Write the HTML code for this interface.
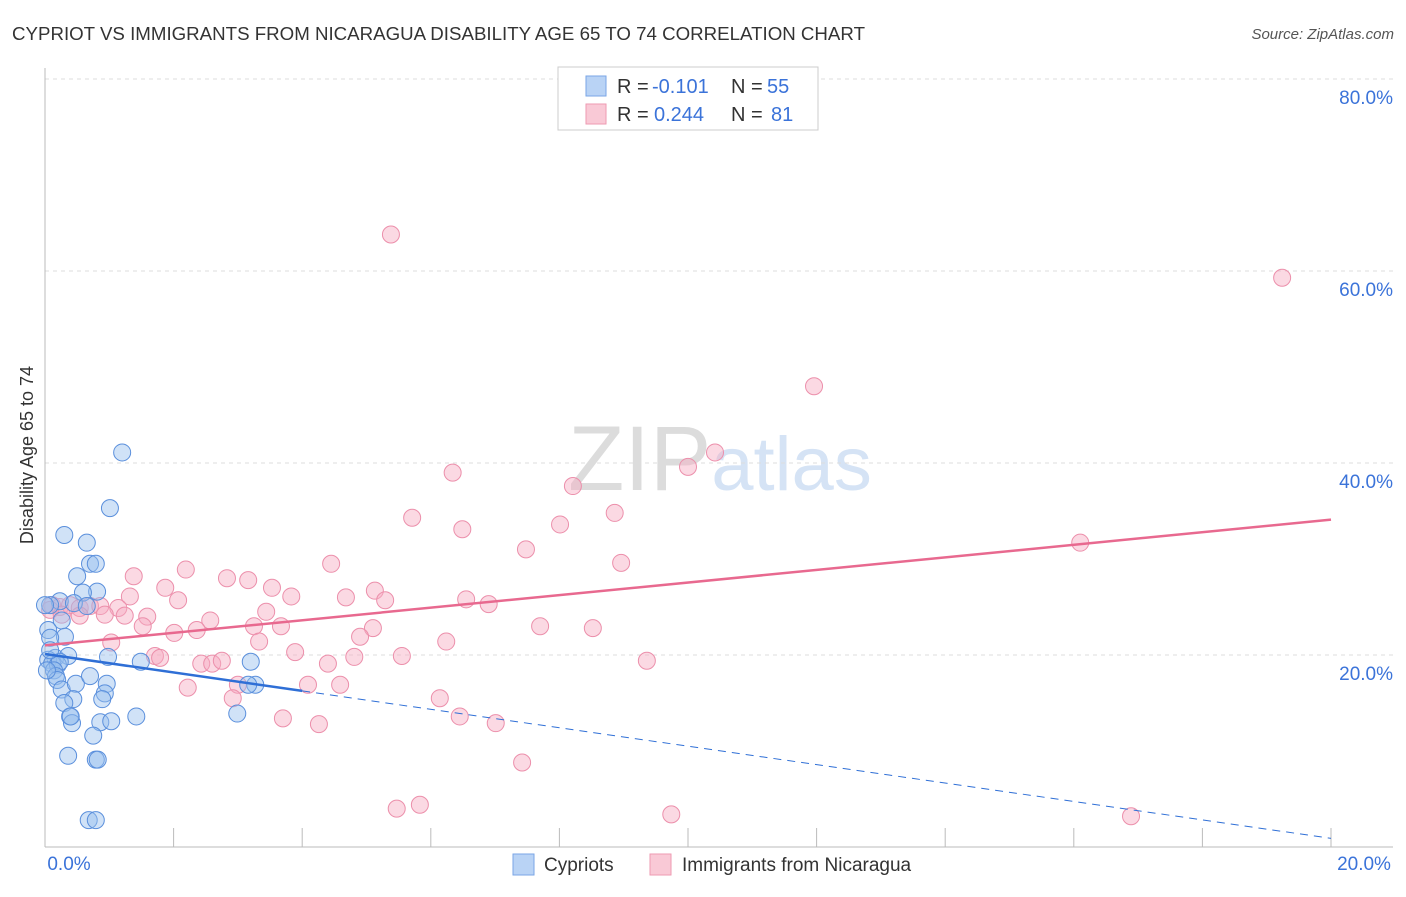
<!DOCTYPE html>
<html><head><meta charset="utf-8"><style>
body{margin:0;background:#fff;font-family:"Liberation Sans",sans-serif}
svg text{font-family:"Liberation Sans",sans-serif}
</style></head><body>
<svg id="c" width="1406" height="892">
<text x="12" y="40" font-size="18" fill="#333" textLength="853" lengthAdjust="spacingAndGlyphs">CYPRIOT VS IMMIGRANTS FROM NICARAGUA DISABILITY AGE 65 TO 74 CORRELATION CHART</text>
<text x="1394" y="39" font-size="15" fill="#555" text-anchor="end" font-style="italic">Source: ZipAtlas.com</text>
<text x="720" y="490" font-size="92" fill="#e6e6e6" text-anchor="middle" font-family="Liberation Serif"><tspan fill="#dcdcdc">ZIP</tspan><tspan fill="#d5e3f5" font-family="Liberation Sans" font-size="76">atlas</tspan></text>
<text transform="translate(33,455) rotate(-90)" font-size="18" fill="#333" text-anchor="middle">Disability Age 65 to 74</text>
<g id="grid"></g><g id="pts"></g><g id="lines"></g>
<g>
<rect x="558" y="67" width="260" height="63" fill="#fff" stroke="#ccc"/>
<rect x="586" y="76" width="20" height="20" fill="#b9d3f5" stroke="#7aa6e6"/>
<rect x="586" y="104" width="20" height="20" fill="#f9c9d6" stroke="#ee9ab2"/>
<text x="617" y="93" font-size="20" fill="#333">R =</text>
<text x="652" y="93" font-size="20" fill="#3b73d9">-0.101</text>
<text x="731" y="93" font-size="20" fill="#333">N =</text>
<text x="767" y="93" font-size="20" fill="#3b73d9">55</text>
<text x="617" y="121" font-size="20" fill="#333">R =</text>
<text x="654" y="121" font-size="20" fill="#3b73d9">0.244</text>
<text x="731" y="121" font-size="20" fill="#333">N =</text>
<text x="771" y="121" font-size="20" fill="#3b73d9">81</text>
</g>
<g>
<rect x="513" y="854" width="21" height="21" fill="#b9d3f5" stroke="#7aa6e6"/>
<text x="544" y="871" font-size="19" fill="#333">Cypriots</text>
<rect x="650" y="854" width="21" height="21" fill="#f9c9d6" stroke="#ee9ab2"/>
<text x="682" y="871" font-size="19" fill="#333">Immigrants from Nicaragua</text>
</g>
</svg>
<script>
const blueX=[1.20,1.01,0.30,0.65,0.70,0.79,0.50,0.81,0.59,0.23,0.45,0.65,0.08,0.26,0.05,0.31,0.08,0.16,0.36,0.05,0.11,0.20,0.23,0.14,0.17,0.19,0.26,0.98,1.49,3.20,0.48,0.70,0.96,0.93,0.89,0.44,0.30,0.39,0.42,0.86,1.03,1.42,2.99,0.75,0.36,0.79,0.82,3.27,0.68,0.79,3.16,0.40,0,0.08,0.03];
const blueY=[41.1,35.3,32.5,31.7,29.5,29.5,28.2,26.6,26.5,25.6,25.4,25.1,25.2,23.6,22.6,21.9,21.8,19.7,19.9,19.5,19.1,19.0,19.3,18.4,17.8,17.4,16.4,19.8,19.3,19.3,17.0,17.8,17.0,16.0,15.4,15.4,15.0,13.6,12.9,13.0,13.1,13.6,13.9,11.6,9.5,9.1,9.1,16.9,2.8,2.8,16.9,13.6,25.2,20.5,18.4];
const pinkX=[5.38,19.24,11.96,6.34,10.42,10.00,8.21,5.71,6.49,8.01,8.86,7.48,16.10,4.45,8.96,1.38,2.19,2.83,3.16,1.87,3.53,3.83,4.68,5.13,5.29,6.55,6.90,1.32,2.07,0.11,0.23,0.39,0.54,0.70,0.86,1.14,1.59,0.54,0.93,1.24,2.57,3.44,7.70,8.52,5.10,3.67,3.25,1.52,2.36,2.01,4.90,6.24,1.03,3.33,3.89,1.71,1.79,4.81,5.55,9.36,4.40,2.43,2.60,2.75,2.22,3.00,4.09,4.59,6.14,2.92,3.70,4.26,6.45,7.01,7.42,5.47,5.83,9.74,16.89,0.08,0.26];
const pinkY=[63.8,59.3,48.0,39.0,41.1,39.6,37.6,34.3,33.1,33.6,34.8,31.0,31.7,29.5,29.6,28.2,28.9,28.0,27.8,27.0,27.0,26.1,26.0,26.7,25.7,25.8,25.3,26.1,25.7,25.2,25.0,25.2,24.9,25.1,25.1,24.9,24.0,24.1,24.2,24.1,23.6,24.5,23.0,22.8,22.8,23.0,23.0,23.0,22.6,22.3,21.9,21.4,21.3,21.4,20.3,19.9,19.7,19.8,19.9,19.4,19.1,19.1,19.1,19.4,16.6,16.9,16.9,16.9,15.5,15.5,13.4,12.8,13.6,12.9,8.8,4.0,4.4,3.4,3.2,24.7,24.2];
const yTicks=[20,40,60,80];
const pinkTrend=[21.0,0.655];
const blueTrend=[20.1,-0.96,4.0];
const NS='http://www.w3.org/2000/svg';
const sx=v=>45+v*64.3, sy=v=>847-v*9.6;
function mk(tag,a,p){const e=document.createElementNS(NS,tag);for(const k in a)e.setAttribute(k,a[k]);p.appendChild(e);return e;}
const g=document.getElementById('grid');
yTicks.forEach(t=>{
const l=mk('line',{x1:45,x2:1393,y1:sy(t),y2:sy(t),stroke:'#ddd','stroke-dasharray':'4,4'},g);


const tx=mk('text',{x:1393,y:sy(t)+25,'font-size':19,fill:'#3b73d9','text-anchor':'end'},g);
tx.textContent=t.toFixed(1)+'%';


});
const ax=mk('line',{x1:45,x2:1393,y1:847,y2:847,stroke:'#bbb'},g);


const ay=mk('line',{x1:45,x2:45,y1:68,y2:847,stroke:'#bbb'},g);


for(let i=1;i<=10;i++){mk('line',{x1:sx(i*2),x2:sx(i*2),y1:828,y2:847,stroke:'#bbb'},g);}
[[0,'0.0%',69,'middle'],[20,'20.0%',1364,'middle']].forEach(d=>{
const t=mk('text',{x:d[2],y:870,'font-size':19,fill:'#3b73d9','text-anchor':d[3]},g);
t.textContent=d[1];


});
const p=document.getElementById('pts');
pinkX.forEach((x,i)=>{
const c=mk('circle',{cx:sx(x),cy:sy(pinkY[i]),r:8.5,fill:'rgba(246,170,193,0.45)',stroke:'#ec8fab','stroke-width':1},p);


});
blueX.forEach((x,i)=>{
const c=mk('circle',{cx:sx(x),cy:sy(blueY[i]),r:8.5,fill:'rgba(150,190,238,0.45)',stroke:'#5a8fdc','stroke-width':1},p);


});
const L=document.getElementById('lines');
const pl=mk('line',{x1:sx(0),y1:sy(pinkTrend[0]),x2:sx(20),y2:sy(pinkTrend[0]+20*pinkTrend[1]),stroke:'#e8698f','stroke-width':2.5},L);


const b1=mk('line',{x1:sx(0),y1:sy(blueTrend[0]),x2:sx(blueTrend[2]),y2:sy(blueTrend[0]+blueTrend[2]*blueTrend[1]),stroke:'#2f6fd6','stroke-width':2.5},L);


const b2=mk('line',{x1:sx(blueTrend[2]),y1:sy(blueTrend[0]+blueTrend[2]*blueTrend[1]),x2:sx(20),y2:sy(blueTrend[0]+20*blueTrend[1]),stroke:'#2f6fd6','stroke-width':1,'stroke-dasharray':'8,6'},L);


</script>
</body></html>
